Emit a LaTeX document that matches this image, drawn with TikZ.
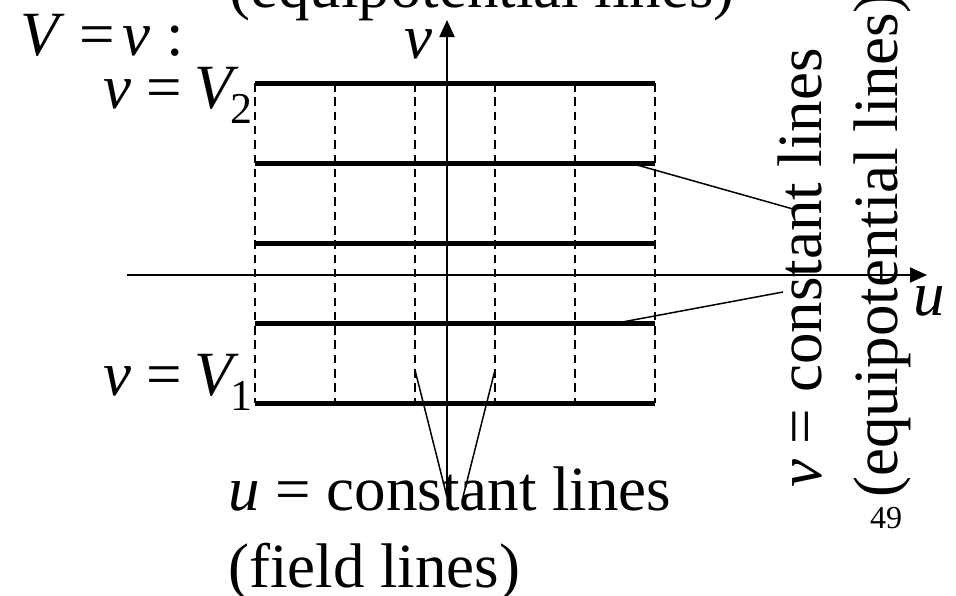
\documentclass[tikz,border=0pt]{standalone}
\usepackage{fontspec}
\setmainfont{Liberation Serif}
\usetikzlibrary{arrows.meta}
\newcommand{\subdigit}[1]{\kern-8pt\raisebox{-15pt}{\fontsize{44}{44}\selectfont #1}}
\begin{document}
\begin{tikzpicture}[x=1pt,y=-1pt,
  big/.style={inner sep=0pt, font=\fontsize{63}{76}\selectfont},
  small/.style={inner sep=0pt, font=\fontsize{32}{38}\selectfont},
  thickline/.style={line width=5pt},
  gridline/.style={line width=2.2pt, dash pattern=on 8.5pt off 5.8pt},
  axis/.style={line width=2pt, -{Triangle[length=17pt,width=15pt]}},
  pointer/.style={line width=1.5pt}]
\useasboundingbox (0,0) rectangle (956,595);
\clip (0,0) rectangle (956,595);
% dashed u = constant lines
\foreach \x in {255,335,415,495,575,655}
  \draw[gridline] (\x,83) -- (\x,403);
% thick v = constant lines
\foreach \y in {83,163,243,323,403}
  \draw[thickline] (255,\y) -- (655,\y);
% axes
\coordinate (uStart) at (127,275);
\coordinate (uEnd) at (927,275);
\coordinate (vStart) at (447,497);
\coordinate (vEnd) at (447,20);
\draw[axis] (uStart) -- (uEnd);
\draw[axis] (vStart) -- (vEnd);
% labels
\node[big, anchor=base west] (Vv) at (20,55) {\textit{V}\hspace{-1pt} = \hspace{-8pt}\textit{v} :};
\node[big, anchor=base west] (eq) at (229,7) {(equipotential lines)};
\node[big, anchor=base west] (vlab) at (404,58) {\textit{v}};
\node[big, anchor=base west] (ulab) at (913,315) {\textit{u}};
\node[big, anchor=base west] (V2) at (103,108) {\textit{v} = \hspace{-4pt}\textit{V}\subdigit{2}};
\node[big, anchor=base west] (V1) at (103,395) {\textit{v} = \hspace{-4pt}\textit{V}\subdigit{1}};
\node[big, anchor=base west] (uc) at (228,510) {\textit{u} = constant lines};
\node[big, anchor=base west] (fl) at (228,587) {(field lines)};
\node[big, anchor=base west, rotate=90] (vc) at (821,488) {\textit{v} = constant lines};
\node[big, anchor=base west, rotate=90] (ep) at (897,498) {(equipotential lines)};
\node[small, anchor=base west] (num) at (870,528) {49};
% pointers
\coordinate (a1) at (630,163);
\coordinate (a2) at (617,323);
\coordinate (b1) at (793,209);
\coordinate (b2) at (783,292);
\draw[pointer] (a1) -- (b1);
\draw[pointer] (a2) -- (b2);
\coordinate (c1) at (415,370);
\coordinate (c2) at (495,370);
\coordinate (d1) at (447,497);
\coordinate (d2) at (463,497);
\draw[pointer] (c1) -- (d1);
\draw[pointer] (c2) -- (d2);
\end{tikzpicture}
\end{document}
